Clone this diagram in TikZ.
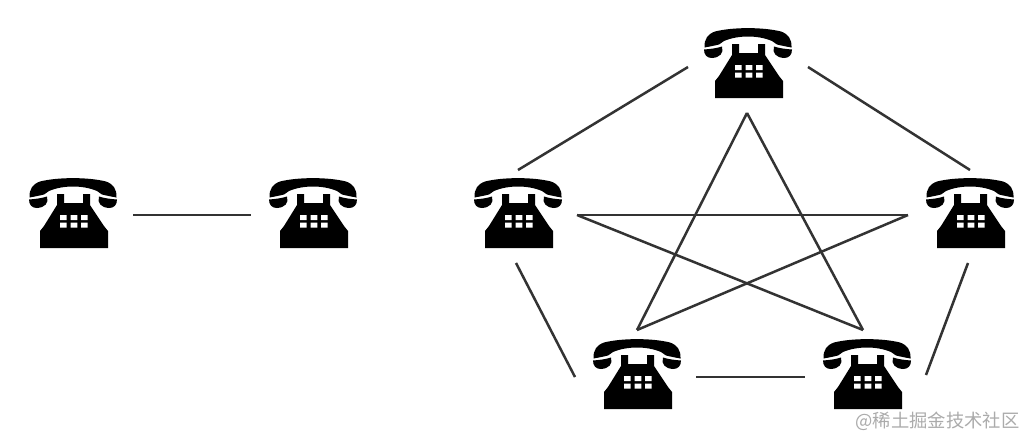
\documentclass[tikz,border=0pt]{standalone}
\usepackage{fontspec}
\newfontfamily\cjk{Noto Sans CJK SC}
\usetikzlibrary{calc}
\definecolor{linegray}{HTML}{333333}
\definecolor{markgray}{HTML}{ABABAB}
\tikzset{
  x=1pt,y=-1pt,
  phonenode/.style={inner sep=0pt,minimum width=88pt,minimum height=70pt},
  wire/.style={draw=linegray,line width=2.5pt},
  telephone/.pic={
    \fill[black] (-43.5,-17.5) .. controls (-44,-26) and (-40,-31) .. (-33,-33.5)
      .. controls (-15,-38) and (15,-38) .. (33,-33.5)
      .. controls (40,-31) and (44,-26) .. (43.5,-17.5)
      .. controls (38,-18.5) and (33,-19.5) .. (29,-20.5)
      .. controls (27,-22) and (26,-23) .. (24,-24)
      .. controls (10,-30) and (-10,-30) .. (-24,-24)
      .. controls (-26,-23) and (-27,-22) .. (-29,-20.5)
      .. controls (-33,-19.5) and (-38,-18.5) .. (-43.5,-17.5) -- cycle;
    \fill[black] (-44,-15.5) .. controls (-38,-16) and (-32,-16.5) .. (-26,-18.5)
      .. controls (-24,-12) and (-28,-7.5) .. (-36,-7)
      .. controls (-41,-7) and (-44,-10) .. (-44,-15.5) -- cycle;
    \fill[black] (44,-15.5) .. controls (38,-16) and (32,-16.5) .. (26,-18.5)
      .. controls (24,-12) and (28,-7.5) .. (36,-7)
      .. controls (41,-7) and (44,-10) .. (44,-15.5) -- cycle;
    \fill[black] (-16,-21) -- (-9,-21) -- (-9,-12) -- (10,-12) -- (10,-21) -- (17,-21)
      -- (17,-10) -- (31,11) -- (35,16) -- (35,33) -- (-33,33) -- (-33,16)
      -- (-29,11) -- (-16,-10) -- cycle;
    \fill[white] (-13,0) rectangle (-6.5,5) (-2.3,0) rectangle (4.3,5) (8,0) rectangle (14.7,5)
      (-13,7.7) rectangle (-6.5,12.7) (-2.3,7.7) rectangle (4.3,12.7) (8,7.7) rectangle (14.7,12.7);
  }
}
\begin{document}
\begin{tikzpicture}
\useasboundingbox (0,0) rectangle (1033,447);
\fill[white] (0,0) rectangle (1033,447);
\node[phonenode] (pa) at (73,215) {};
\node[phonenode] (pb) at (313,215) {};
\node[phonenode] (pt) at (748,65) {};
\node[phonenode] (pl) at (518,215) {};
\node[phonenode] (pr) at (970,215) {};
\node[phonenode] (pf) at (637,376) {};
\node[phonenode] (pg) at (867,376) {};
\foreach \n in {pa,pb,pt,pl,pr,pf,pg} \pic at (\n) {telephone};
% connector ends around each telephone
\coordinate (ab1) at ($(pa)+(60,0)$);
\coordinate (ab2) at ($(pb)+(-62,0)$);
\coordinate (tl) at ($(pt)+(-60,2)$);
\coordinate (tr) at ($(pt)+(60,2)$);
\coordinate (tb) at ($(pt)+(-1,48)$);
\coordinate (lt) at ($(pl)+(0,-45)$);
\coordinate (lc) at ($(pl)+(59,0)$);
\coordinate (lb) at ($(pl)+(-2,48)$);
\coordinate (rt) at ($(pr)+(0,-45)$);
\coordinate (rc) at ($(pr)+(-62,0)$);
\coordinate (rb) at ($(pr)+(-2,48)$);
\coordinate (ft) at ($(pf)+(0,-46)$);
\coordinate (fl) at ($(pf)+(-62,1)$);
\coordinate (fr) at ($(pf)+(59,1)$);
\coordinate (gt) at ($(pg)+(-4,-46)$);
\coordinate (gl) at ($(pg)+(-62,1)$);
\coordinate (gr) at ($(pg)+(59,-1)$);
\draw[wire] (ab1) -- (ab2);
\draw[wire] (lt) -- (tl);
\draw[wire] (tr) -- (rt);
\draw[wire] (tb) -- (ft);
\draw[wire] (tb) -- (gt);
\draw[wire] (lc) -- (rc);
\draw[wire] (lc) -- (gt);
\draw[wire] (rc) -- (ft);
\draw[wire] (lb) -- (fl);
\draw[wire] (rb) -- (gr);
\draw[wire] (fr) -- (gl);
\node[text=markgray,inner sep=0pt,font=\fontsize{18.3pt}{20pt}\selectfont] (mark) at (937.5,421) {\cjk @稀土掘金技术社区};
\end{tikzpicture}
\end{document}
